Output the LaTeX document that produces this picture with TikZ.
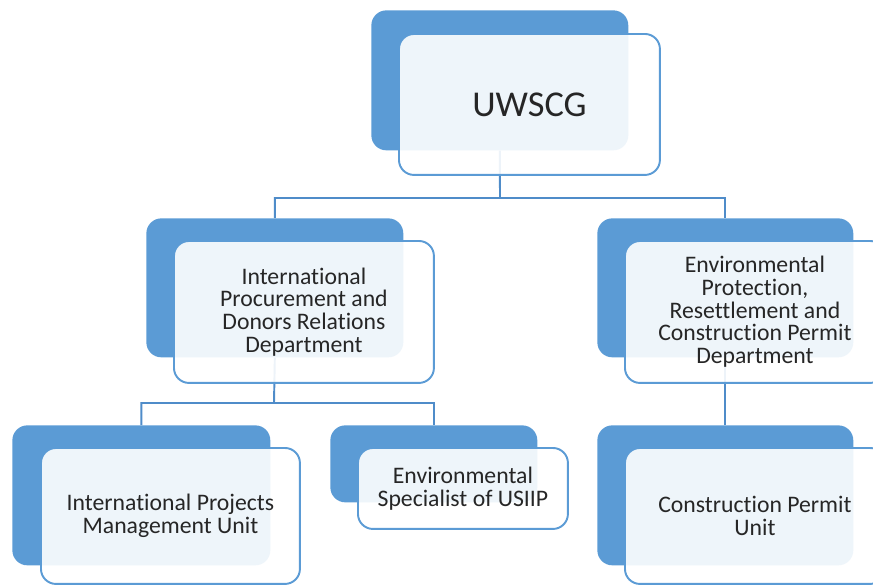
\documentclass[tikz,border=0pt]{standalone}
\usepackage{fontspec}
\setmainfont{Carlito}[Ligatures=NoCommon]
\usepackage{xcolor}
\usepackage{tikz}
\definecolor{unitblue}{HTML}{5B9BD5}
\definecolor{linkblue}{HTML}{4F8CC9}
\definecolor{textgray}{HTML}{262626}
\tikzset{
  backbox/.style={fill=unitblue, rounded corners=0.3cm, anchor=north west, inner sep=0pt},
  frontbox/.style={draw=unitblue, line width=1.1pt, fill=white, fill opacity=0.9, text opacity=1,
    rounded corners=0.3cm, anchor=north west, align=center, text=textgray, inner sep=0pt,
    font=\fontsize{13.5}{12.9}\selectfont},
  conn/.style={draw=linkblue, line width=1.1pt}
}

\begin{document}
\begin{tikzpicture}[x=0.02cm, y=-0.02cm]
\useasboundingbox (0,0) rectangle (873,585);
\clip (0,0) rectangle (873,585);

\node[backbox, minimum width=5.14cm, minimum height=2.8cm] (uwscgb) at (371,10) {};
\node[backbox, minimum width=5.14cm, minimum height=2.78cm] (ipdb) at (146,218) {};
\node[backbox, minimum width=5.12cm, minimum height=2.78cm] (eprdb) at (597,218) {};
\node[backbox, minimum width=5.16cm, minimum height=2.8cm] (ipmub) at (12,425) {};
\node[backbox, minimum width=4.14cm, minimum height=1.54cm] (esb) at (330,425) {};
\node[backbox, minimum width=5.12cm, minimum height=2.8cm] (cpub) at (597,425) {};

\coordinate (topbar) at (500,198);
\coordinate (leftbar) at (274,403);
\draw[conn] (uwscgb.south) -- (topbar) -| (ipdb.north);
\draw[conn] (topbar) -| (eprdb.north);
\draw[conn] (ipdb.south) -- (leftbar) -| (ipmub.north);
\draw[conn] (leftbar) -| (esb.north);
\draw[conn] (eprdb.south) -- (cpub.north);

\node[frontbox, minimum width=5.22cm, minimum height=2.82cm, font=\fontsize{20.7}{24}\selectfont] (uwscg) at (398,33) {UWSCG};
\node[frontbox, minimum width=5.2cm, minimum height=2.84cm] (ipd) at (173,240) {International\\Procurement and\\Donors Relations\\Department};
\node[frontbox, minimum width=5.2cm, minimum height=2.84cm] (eprd) at (624,240) {Environmental\\Protection,\\Resettlement  and\\Construction Permit\\Department};
\node[frontbox, minimum width=5.18cm, minimum height=2.72cm] (ipmu) at (40,447) {International Projects\\Management Unit};
\node[frontbox, minimum width=4.2cm, minimum height=1.62cm] (es) at (357,447) {Environmental\\Specialist of USIIP};
\node[frontbox, minimum width=5.2cm, minimum height=2.72cm] (cpu) at (624,447) {Construction Permit\\Unit};
\end{tikzpicture}
\end{document}
